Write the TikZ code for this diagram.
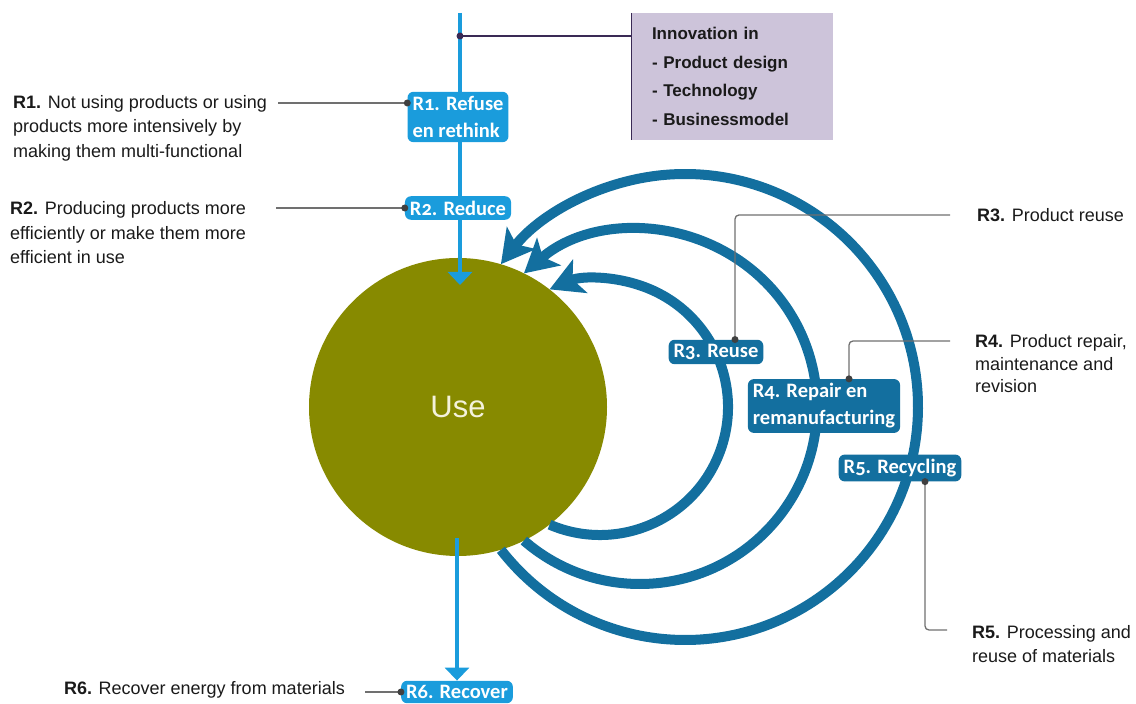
\documentclass[tikz,border=0pt]{standalone}
\usepackage{fontspec}
\setmainfont{Liberation Sans}
\newfontfamily\boxfont{Carlito}[Numbers=OldStyle]
\usetikzlibrary{arrows.meta}
\definecolor{lblue}{HTML}{1A9CDC}
\definecolor{dblue}{HTML}{136F9F}
\definecolor{olive}{HTML}{878A00}
\definecolor{lav}{HTML}{CDC4DA}
\definecolor{innovline}{HTML}{3A2A55}
\definecolor{leadgray}{HTML}{707070}
\definecolor{dotc}{HTML}{404040}
\definecolor{txt}{HTML}{1A1A1A}
\definecolor{usetext}{HTML}{F4F2DC}
\begin{document}
\begin{tikzpicture}[x=1pt,y=1pt,
  desc/.style={font=\fontsize{18}{24.5}\selectfont, text=txt, align=left, inner sep=0pt},
  rbox/.style={rounded corners=6pt, inner xsep=5pt, inner ysep=4.5pt, text=white,
    font=\boxfont\bfseries\fontsize{20.5}{27}\selectfont, align=left},
  lbox/.style={rbox, fill=lblue},
  dbox/.style={rbox, fill=dblue},
  leader/.style={draw=leadgray, line width=1.3pt, rounded corners=4pt},
  pin/.style={circle, fill=dotc, inner sep=0pt, minimum size=7pt},
  flow/.style={draw=lblue, line width=4pt},
  flowarrow/.style={flow, -{Triangle[length=13pt,width=24pt]}},
  loop/.style={draw=dblue, line width=10pt, -{Stealth[length=33pt,width=36pt,inset=8pt]}},
]
\useasboundingbox (0,0) rectangle (1136,704);
\clip (0,0) rectangle (1136,704);

% central "Use" phase
\node[circle, fill=olive, minimum size=298pt, inner sep=0pt, text=usetext,
  font=\fontsize{31}{31}\selectfont] (use) at (458,297) {Use};

% loop centres
\coordinate (c3) at (600,297);
\coordinate (c4) at (640,297);
\coordinate (c5) at (685,297);

% feedback loops, leaving and re-entering the Use circle
\draw[loop] (c3) ++(-113.2:128) arc[start angle=-113.2, end angle=113.2, radius=128];
\draw[loop] (c4) ++(-131.0:177) arc[start angle=-131.0, end angle=131.0, radius=177];
\draw[loop] (c5) ++(-142.2:233) arc[start angle=-142.2, end angle=142.2, radius=233];

% innovation box
\node[fill=lav, minimum height=127pt, text width=161pt, inner xsep=20pt, align=left,
  font=\bfseries\fontsize{17}{28.5}\selectfont, text=txt] (innov) at (732.5,627.5)
  {Innovation in\\- Product design\\- Technology\\- Businessmodel};
\draw[draw=innovline, line width=1.3pt] (innov.north west) -- (innov.south west);

% R-strategy labels
\node[lbox] (r1) at (458,587) {R1. Refuse\\en rethink};
\node[lbox] (r2) at (458,496) {R2. Reduce};
\node[lbox] (r6) at (457,12) {R6. Recover};
\node[dbox] (r3) at (716,352) {R3. Reuse};
\node[dbox] (r4) at (824,298) {R4. Repair en\\remanufacturing};
\node[dbox] (r5) at (900,236) {R5. Recycling};

% main linear flow
\coordinate (top) at (460,691);
\coordinate (usein) at (460,419);
\coordinate (useout) at (457,166);
\draw[flow] (top) -- (top |- r1.north);
\draw[flow] (top |- r1.south) -- (top |- r2.north);
\draw[flowarrow] (top |- r2.south) -- (usein);
\draw[flowarrow] (useout) -- (r6.north);

% innovation link
\coordinate (idot) at (460,668);
\draw[draw=innovline, line width=1.3pt] (idot) -- (idot -| innov.west);
\node[pin, fill=innovline] at (idot) {};

% descriptions
\node[desc, anchor=west] (d1) at (13,576)
  {\textbf{R1.} Not using products or using\\products more intensively by\\making them multi-functional};
\node[desc, anchor=west] (d2) at (10,471)
  {\textbf{R2.} Producing products more\\efficiently or make them more\\efficient in use};
\node[desc, anchor=west] (d3) at (977,489) {\textbf{R3.} Product reuse};
\node[desc, anchor=west, font=\fontsize{18}{22.5}\selectfont] (d4) at (975,340)
  {\textbf{R4.} Product repair,\\maintenance and\\revision};
\node[desc, anchor=west, font=\fontsize{18}{24}\selectfont] (d5) at (972,60)
  {\textbf{R5.} Processing and\\reuse of materials};
\node[desc, anchor=east] (d6) at (345,14) {\textbf{R6.} Recover energy from materials};

% leader lines
\coordinate (l1) at (278,601);
\coordinate (l2) at (276,496);
\coordinate (e3) at (950,489);
\coordinate (e4) at (950,363);
\coordinate (e5) at (947,74);
\coordinate (l6) at (365,12);
\draw[leader] (l1) -- (l1 -| r1.west) node[pin] {};
\draw[leader] (l2) -- (r2.west) node[pin] {};
\draw[leader] (r3.north -| 735,0) node[pin] {} |- (e3);
\draw[leader] (r4.north -| 849,0) node[pin] {} |- (e4);
\draw[leader] (r5.south -| 925,0) node[pin] {} |- (e5);
\draw[leader] (l6) -- (r6.west) node[pin] {};
\end{tikzpicture}
\end{document}
